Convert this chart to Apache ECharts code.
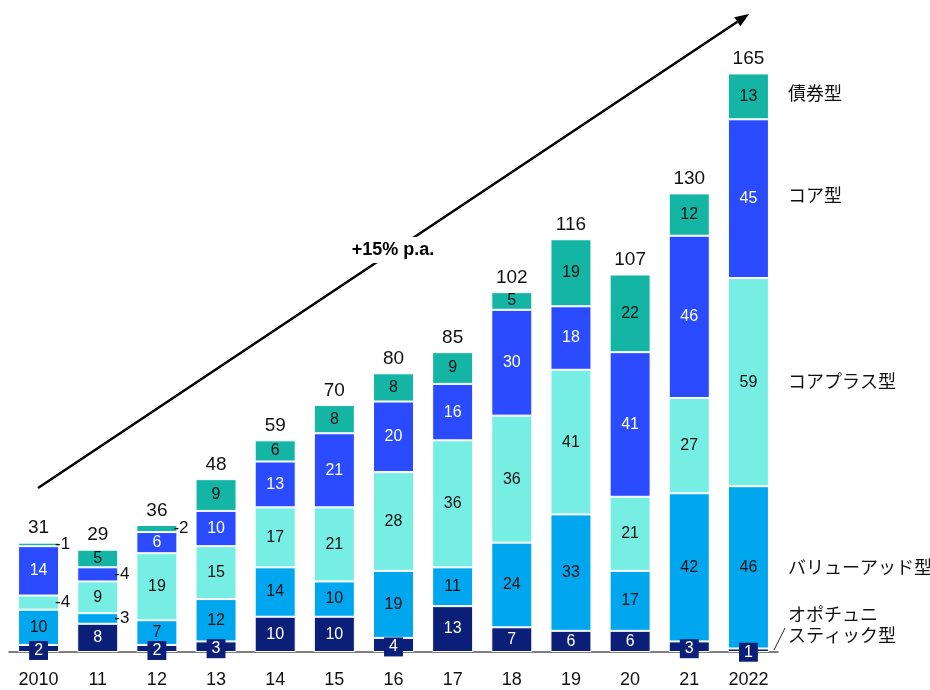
<!DOCTYPE html>
<html><head><meta charset="utf-8">
<script src="https://cdn.jsdelivr.net/npm/echarts@6/dist/echarts.min.js"></script>
<style>html,body{margin:0;padding:0;background:#fff}#c{width:930px;height:690px}</style>
</head><body><div id="c"></div>
<script>
const categories = ['2010','11','12','13','14','15','16','17','18','19','20','21','2022'];
const opportunistic = [2, 8, 2, 3, 10, 10, 4, 13, 7, 6, 6, 3, 1];
const valueAdd      = [10, 3, 7, 12, 14, 10, 19, 11, 24, 33, 17, 42, 46];
const corePlus      = [4, 9, 19, 15, 17, 21, 28, 36, 36, 41, 21, 27, 59];
const core          = [14, 4, 6, 10, 13, 21, 20, 16, 30, 18, 41, 46, 45];
const debt          = [1, 5, 2, 9, 6, 8, 8, 9, 5, 19, 22, 12, 13];
const totals        = [31, 29, 36, 48, 59, 70, 80, 85, 102, 116, 107, 130, 165];
const seriesNames = ['オポチュニスティック型','バリューアッド型','コアプラス型','コア型','債券型'];

const FONT = 'Liberation Sans, Arial, sans-serif';
const JP = '"Noto Sans CJK JP", sans-serif';
const colors = ['#0B1F78', '#00A6EE', '#76EEE3', '#2A4BFF', '#15B5A5'];
const textColors = ['#fff', '#111', '#111', '#fff', '#111'];

function makeData(arr, idx) {
  return arr.map(v => {
    const item = { value: v };
    if (idx === 0) {
      if (v <= 4) {
        item.label = { show: true, position: 'inside', color: '#fff', fontSize: 16, fontFamily: FONT,
          backgroundColor: colors[0], padding: [2, 5, 1, 5], offset: [0, 2] };
      }
    } else if (v < 5) {
      item.label = { show: true, position: 'right', distance: -4, color: '#111', fontSize: 17, fontFamily: FONT,
        formatter: '-{c}' };
    }
    return item;
  });
}

const stackArrays = [opportunistic, valueAdd, corePlus, core, debt];
const series = stackArrays.map((arr, i) => ({
  name: seriesNames[i], type: 'bar', stack: 'a', barWidth: 41,
  data: makeData(arr, i),
  itemStyle: { color: colors[i], borderColor: '#fff', borderWidth: 1 },
  label: { show: true, position: 'inside', color: textColors[i], fontSize: 16, fontFamily: FONT },
  z: 2
}));
const sums = categories.map((_, j) => stackArrays.reduce((s, a) => s + a[j], 0));
series.push({
  name: 'total', type: 'bar', barGap: '-100%', barWidth: 41, data: sums,
  itemStyle: { color: 'rgba(0,0,0,0)' }, silent: true, z: 1,
  label: { show: true, position: 'top', distance: 5, color: '#111', fontSize: 19, fontFamily: FONT,
    formatter: p => totals[p.dataIndex] }
});

const chart = echarts.init(document.getElementById('c'));
const ax1 = 38, ay1 = 488, ax2 = 749, ay2 = 14;
const L = Math.hypot(ax2 - ax1, ay2 - ay1);
const ux = (ax2 - ax1) / L, uy = (ay2 - ay1) / L;
const nx = -uy, ny = ux;
const hb = [ax2 - 14 * ux, ay2 - 14 * uy];

chart.setOption({
  animation: false,
  grid: { left: 9, right: 152, top: 17, bottom: 38 },
  xAxis: {
    type: 'category', data: categories,
    axisLine: { lineStyle: { color: '#555', width: 1.5 } },
    axisTick: { show: false },
    axisLabel: { color: '#111', fontSize: 18, fontFamily: FONT, margin: 19 }
  },
  yAxis: { type: 'value', min: 0, max: 180, show: false, splitLine: { show: false } },
  series: series,
  graphic: [
    { type: 'line', shape: { x1: ax1, y1: ay1, x2: hb[0], y2: hb[1] }, style: { stroke: '#000', lineWidth: 2.5 }, z: 10 },
    { type: 'polygon', shape: { points: [[ax2, ay2], [hb[0] + 5.5 * nx, hb[1] + 5.5 * ny], [hb[0] - 5.5 * nx, hb[1] - 5.5 * ny]] }, style: { fill: '#000' }, z: 10 },
    { type: 'text', x: 393, y: 250, z: 11, style: { text: '+15% p.a.', font: 'bold 18px ' + FONT, fill: '#000',
      align: 'center', verticalAlign: 'middle', backgroundColor: '#fff', padding: [4, 8] } },
    { type: 'text', x: 788, y: 93, style: { text: '債券型', font: '18px ' + JP, fill: '#111', verticalAlign: 'middle' } },
    { type: 'text', x: 788, y: 195, style: { text: 'コア型', font: '18px ' + JP, fill: '#111', verticalAlign: 'middle' } },
    { type: 'text', x: 788, y: 381, style: { text: 'コアプラス型', font: '18px ' + JP, fill: '#111', verticalAlign: 'middle' } },
    { type: 'text', x: 788, y: 567, style: { text: 'バリューアッド型', font: '18px ' + JP, fill: '#111', verticalAlign: 'middle' } },
    { type: 'text', x: 788, y: 614, style: { text: 'オポチュニ', font: '18px ' + JP, fill: '#111', verticalAlign: 'middle' } },
    { type: 'text', x: 788, y: 635, style: { text: 'スティック型', font: '18px ' + JP, fill: '#111', verticalAlign: 'middle' } },
    { type: 'line', shape: { x1: 774, y1: 650, x2: 785, y2: 628 }, style: { stroke: '#222', lineWidth: 1 } }
  ]
});
</script></body></html>
